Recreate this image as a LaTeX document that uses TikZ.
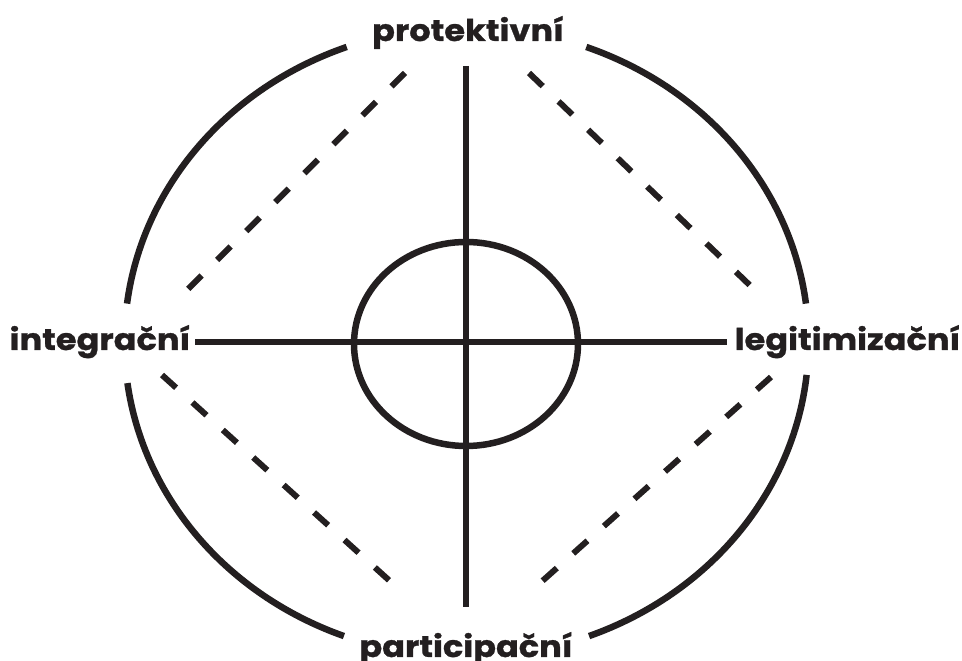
\documentclass[tikz,border=0pt]{standalone}
\usepackage{fontspec}
\setmainfont{Poppins}[FakeStretch=1.12,BoldFeatures={FakeBold=1}]
\definecolor{ink}{HTML}{231F20}
\begin{document}
\begin{tikzpicture}[x=1pt,y=1pt,
  solidline/.style={draw=ink,line width=6.5pt},
  dashline/.style={draw=ink,line width=6pt,dash pattern=on 19pt off 22pt},
  lbl/.style={inner sep=0pt,anchor=base,text=ink,font=\fontsize{30}{32}\selectfont\bfseries}]
\useasboundingbox (0,0) rectangle (962,661);
% centres
\coordinate (O) at (466.5,319);
\coordinate (I) at (466,317);
% labels
\node[lbl] (prot) at (468,620) {protektivní};
\node[lbl] (integ) at (100,311) {integrační};
\node[lbl] (legit) at (847.5,311) {legitimizační};
\node[lbl] (part) at (466,4) {participační};
% axes
\coordinate (vt) at (466,595);
\coordinate (vb) at (466,54);
\coordinate (hl) at (195,319);
\coordinate (hr) at (727,319);
\draw[solidline] (vt) -- (vb);
\draw[solidline] (hl) -- (hr);
% inner ellipse
\draw[solidline] (I) ellipse[x radius=112,y radius=102];
% outer ellipse arcs
\draw[solidline] (O) ++(7:342 and 315) arc[start angle=7,end angle=69.5,x radius=342,y radius=315];
\draw[solidline] (O) ++(110.5:342 and 315) arc[start angle=110.5,end angle=173,x radius=342,y radius=315];
\draw[solidline] (O) ++(187.5:342 and 315) arc[start angle=187.5,end angle=249,x radius=342,y radius=315];
\draw[solidline] (O) ++(291:342 and 315) arc[start angle=291,end angle=354,x radius=342,y radius=315];
% dashed diamond
\coordinate (tl1) at (405,588); \coordinate (tl2) at (180,364);
\coordinate (tr1) at (529,588); \coordinate (tr2) at (760,366);
\coordinate (bl1) at (162,286); \coordinate (bl2) at (402,69);
\coordinate (br1) at (771,284); \coordinate (br2) at (530,69);
\draw[dashline] (tl1) -- (tl2);
\draw[dashline] (tr1) -- (tr2);
\draw[dashline] (bl1) -- (bl2);
\draw[dashline] (br1) -- (br2);
\end{tikzpicture}
\end{document}
